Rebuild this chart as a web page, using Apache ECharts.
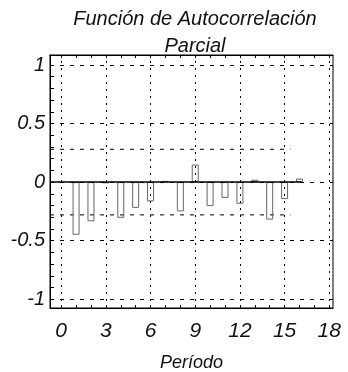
<!DOCTYPE html>
<html>
<head>
<meta charset="utf-8">
<script src="https://cdn.jsdelivr.net/npm/echarts@6/dist/echarts.min.js"></script>
<style>
  html, body { margin: 0; padding: 0; background: #fff; }
  #chart { width: 348px; height: 372px; }
</style>
</head>
<body>
<div id="chart"></div>
<script>
// Partial autocorrelation by lag
const lags = [1, 2, 3, 4, 5, 6, 7, 8, 9, 10, 11, 12, 13, 14, 15, 16];
const pacf = [-0.45, -0.335, -0.01, -0.305, -0.22, -0.165, 0.01, -0.25,
              0.15, -0.205, -0.135, -0.185, 0.02, -0.32, -0.145, 0.03];

// Axis ticks and reference levels
const xTicks = [0, 3, 6, 9, 12, 15, 18];
const xMinorTicks = [0, 1, 2, 3, 4, 5, 6, 7, 8, 9, 10, 11, 12, 13, 14, 15, 16, 17, 18];
const yTicks = [-1, -0.5, 0, 0.5, 1];
const yMinorTicks = [-1, -0.9, -0.8, -0.7, -0.6, -0.5, -0.4, -0.3, -0.2, -0.1, 0,
                     0.1, 0.2, 0.3, 0.4, 0.5, 0.6, 0.7, 0.8, 0.9, 1];
const confBound = 0.28;     // +/- significance band
const xRange = [-0.75, 18.25];
const yRange = [-1.075, 1.085];
const boundEnd = 15.4;
const baselineEnd = 16.1;

const FONT = '"Liberation Sans", Arial, Helvetica, sans-serif';
const INK = '#111';

const chart = echarts.init(document.getElementById('chart'), null, { renderer: 'canvas' });

chart.setOption({
  animation: false,
  backgroundColor: '#fff',
  title: {
    text: 'Función de Autocorrelación\nParcial',
    left: 195,
    top: 6,
    textAlign: 'center',
    padding: 0,
    textStyle: {
      fontFamily: FONT, fontStyle: 'italic', fontWeight: 'normal',
      fontSize: 20, lineHeight: 27, color: INK, align: 'center'
    }
  },
  grid: {
    left: 50, right: 15, top: 55, bottom: 64,
    outerBoundsMode: 'none', containLabel: false,
    show: true, borderColor: '#000', borderWidth: 1, backgroundColor: 'transparent'
  },
  xAxis: [{
    type: 'value', position: 'bottom', min: xRange[0], max: xRange[1],
    name: 'Período', nameLocation: 'middle', nameGap: 46,
    nameTextStyle: { fontFamily: FONT, fontStyle: 'italic', fontSize: 18, color: INK },
    axisLine: { show: true, onZero: false, lineStyle: { color: '#000', width: 1 } },
    axisTick: { show: true, inside: true, length: 3, customValues: xMinorTicks,
                lineStyle: { color: '#000' } },
    axisLabel: { customValues: xTicks, margin: 13, fontFamily: FONT, fontStyle: 'italic',
                 fontSize: 21, color: INK },
    splitLine: { show: false }
  }, {
    type: 'value', position: 'top', min: xRange[0], max: xRange[1],
    axisLine: { show: true, onZero: false, lineStyle: { color: '#000', width: 1 } },
    axisTick: { show: true, inside: true, length: 3, customValues: xMinorTicks,
                lineStyle: { color: '#000' } },
    axisLabel: { show: false },
    splitLine: { show: false }
  }],
  yAxis: {
    type: 'value', min: yRange[0], max: yRange[1],
    axisLine: { show: true, onZero: false, lineStyle: { color: '#000', width: 1 } },
    axisTick: { show: true, inside: true, length: 4, customValues: yMinorTicks,
                lineStyle: { color: '#000' } },
    axisLabel: { customValues: yTicks, margin: 5, fontFamily: FONT, fontStyle: 'italic',
                 fontSize: 20, color: INK, formatter: v => String(v) },
    splitLine: { show: false }
  },
  series: [
    {
      // dotted verticals and dashed horizontals of the grid
      name: 'grid', type: 'line', data: [], silent: true, z: 1,
      markLine: {
        silent: true, symbol: 'none', label: { show: false }, animation: false,
        lineStyle: { color: '#000', width: 1 },
        data: [
          ...xTicks.map(v => ({ xAxis: v, lineStyle: { type: [2, 5], color: '#000', width: 1 } })),
          ...yTicks.map(v => ({ yAxis: v, lineStyle: { type: [4, 6], color: '#000', width: 1 } }))
        ]
      }
    },
    {
      name: 'upper', type: 'line', symbol: 'none', silent: true, z: 2,
      data: [[xRange[0], confBound], [boundEnd, confBound]],
      lineStyle: { color: '#000', width: 1, type: [4, 6] }
    },
    {
      name: 'lower', type: 'line', symbol: 'none', silent: true, z: 2,
      data: [[xRange[0], -confBound], [boundEnd, -confBound]],
      lineStyle: { color: '#000', width: 1, type: [4, 6] }
    },
    {
      name: 'PACF', type: 'bar', barWidth: 7, z: 3,
      data: lags.map((l, i) => [l, pacf[i]]),
      itemStyle: { color: 'rgba(255,255,255,0)', borderColor: '#666', borderWidth: 1 }
    },
    {
      name: 'baseline', type: 'line', symbol: 'none', silent: true, z: 4,
      data: [[xRange[0], 0], [baselineEnd, 0]],
      lineStyle: { color: '#000', width: 1.5 }
    }
  ]
});
</script>
</body>
</html>
